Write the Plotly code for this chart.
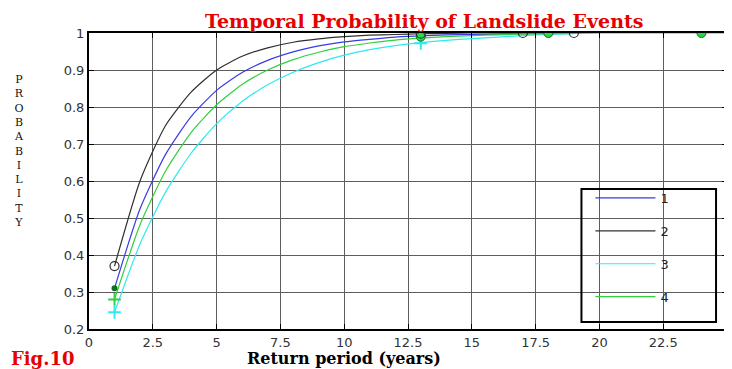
import plotly.graph_objects as go

# Return period (years)
years = list(range(1, 26))

# Temporal probability for each series
series_names = ["1", "2", "3", "4"]
prob_1 = [0.31, 0.525, 0.672, 0.774, 0.845, 0.893, 0.926, 0.949, 0.965, 0.976,
          0.983, 0.989, 0.992, 0.995, 0.996, 0.997, 0.998, 0.999, 1.0]
prob_2 = [0.37, 0.60, 0.75, 0.84, 0.90, 0.937, 0.96, 0.975, 0.984, 0.99,
          0.994, 0.996, 0.998, 0.999, 1.0, 1.0, 1.0, 1.0, 1.0]
prob_3 = [0.245, 0.43, 0.57, 0.675, 0.755, 0.815, 0.86, 0.894, 0.92, 0.94,
          0.955, 0.966, 0.974, 0.98, 0.985, 0.989, 0.993, 0.996, 0.998]
prob_4 = [0.28, 0.482, 0.627, 0.731, 0.806, 0.861, 0.90, 0.928, 0.948, 0.963,
          0.973, 0.981, 0.986, 0.99, 0.993, 0.995, 0.997, 0.998, 0.999, 1.0,
          1.0, 1.0, 1.0, 1.0, 1.0]

# Marker points drawn on the curves
open_circle_x = [1, 13, 17, 19]
open_circle_y = [0.37, 0.998, 1.0, 1.0]
filled_circle_x = [13, 18, 24]
filled_circle_y = [0.99, 1.0, 1.0]
dot_x = [1]
dot_y = [0.31]
green_plus_x = [1]
green_plus_y = [0.28]
cyan_plus_x = [1, 13]
cyan_plus_y = [0.245, 0.972]

x_ticks = [0, 2.5, 5, 7.5, 10, 12.5, 15, 17.5, 20, 22.5, 25]
x_tick_text = ["0", "2.5", "5", "7.5", "10", "12.5", "15", "17.5", "20", "22.5", "25"]
y_ticks = [0.2, 0.3, 0.4, 0.5, 0.6, 0.7, 0.8, 0.9, 1.0]
y_tick_text = ["0.2", "0.3", "0.4", "0.5", "0.6", "0.7", "0.8", "0.9", "1"]

colors = ["#3a3ae6", "#303030", "#30e8f0", "#30d040"]
series_vals = [prob_1, prob_2, prob_3, prob_4]

fig = go.Figure()
for name, vals, col in zip(series_names, series_vals, colors):
    fig.add_trace(go.Scatter(
        x=years[:len(vals)], y=vals, mode="lines", name=name,
        line=dict(color=col, width=1.2, shape="spline", smoothing=0.6),
        legendgroup=name,
    ))

fig.add_trace(go.Scatter(x=cyan_plus_x, y=cyan_plus_y, mode="markers", showlegend=False,
                         marker=dict(symbol="cross-thin", size=9, line=dict(color="#30e8f0", width=2))))
fig.add_trace(go.Scatter(x=green_plus_x, y=green_plus_y, mode="markers", showlegend=False,
                         marker=dict(symbol="cross-thin", size=9, line=dict(color="#30d040", width=2))))
fig.add_trace(go.Scatter(x=dot_x, y=dot_y, mode="markers", showlegend=False,
                         marker=dict(symbol="circle", size=6, color="#107020")))
fig.add_trace(go.Scatter(x=filled_circle_x, y=filled_circle_y, mode="markers", showlegend=False,
                         marker=dict(symbol="circle", size=9, color="#22dd44",
                                     line=dict(color="#146a28", width=1))))
fig.add_trace(go.Scatter(x=open_circle_x, y=open_circle_y, mode="markers", showlegend=False,
                         marker=dict(symbol="circle-open", size=9, color="#303030",
                                     line=dict(width=1.2))))

# page has an 8px body margin: figure sized so the page matches 732x369
OFF = 8
W, H = 732 - OFF, 369 - OFF
L, R, T, B = 89 - OFF, 3, 33 - OFF, 40
pw, ph = W - L - R, H - T - B

def px(x):
    return (x - OFF - L) / pw

def py(y):
    return (H - B - (y - OFF)) / ph

axis_common = dict(showgrid=True, gridcolor="#5e5e5e", gridwidth=1,
                   showline=True, linecolor="black", linewidth=2, mirror="ticks",
                   ticks="inside", ticklen=5, tickcolor="black", zeroline=False,
                   tickfont=dict(family="DejaVu Sans", size=13, color="#333333"))

fig.update_xaxes(range=[0, 25], tickvals=x_ticks, ticktext=x_tick_text, **axis_common)
fig.update_yaxes(range=[0.2, 1.0], tickvals=y_ticks, ticktext=y_tick_text, **axis_common)

fig.update_layout(
    width=W, height=H,
    margin=dict(l=L, r=R, t=T, b=B, pad=0),
    paper_bgcolor="white", plot_bgcolor="white",
    showlegend=True,
    legend=dict(x=px(592), y=py(183), xanchor="left", yanchor="top",
                bgcolor="rgba(255,255,255,0)", borderwidth=0,
                font=dict(family="DejaVu Sans", size=13, color="#222222"),
                tracegroupgap=13, itemwidth=60),
    shapes=[dict(type="rect", xref="paper", yref="paper",
                 x0=px(583), x1=px(718), y0=py(322), y1=py(189),
                 line=dict(color="black", width=2), fillcolor="rgba(255,255,255,0)")],
    annotations=[
        dict(text="<b>Temporal Probability of Landslide Events</b>", xref="paper", yref="paper",
             x=px(425), y=py(21), xanchor="center", yanchor="middle", showarrow=False,
             borderpad=0, font=dict(family="DejaVu Serif", size=19, color="#e60000")),
        dict(text="<b>Fig.10</b>", xref="paper", yref="paper",
             x=px(9), y=py(358), xanchor="left", yanchor="middle", showarrow=False,
             font=dict(family="DejaVu Serif", size=18, color="#e60000")),
        dict(text="<b>Return period (years)</b>", xref="paper", yref="paper",
             x=px(345), y=py(358), xanchor="center", yanchor="middle", showarrow=False,
             font=dict(family="DejaVu Serif", size=16, color="black")),
        dict(text="<br>".join(list("PROBABILITY")), xref="paper", yref="paper",
             x=px(19), y=py(151), xanchor="center", yanchor="middle", showarrow=False,
             font=dict(family="DejaVu Serif", size=11, color="#111111")),
    ],
)

fig.write_html("out.html")
